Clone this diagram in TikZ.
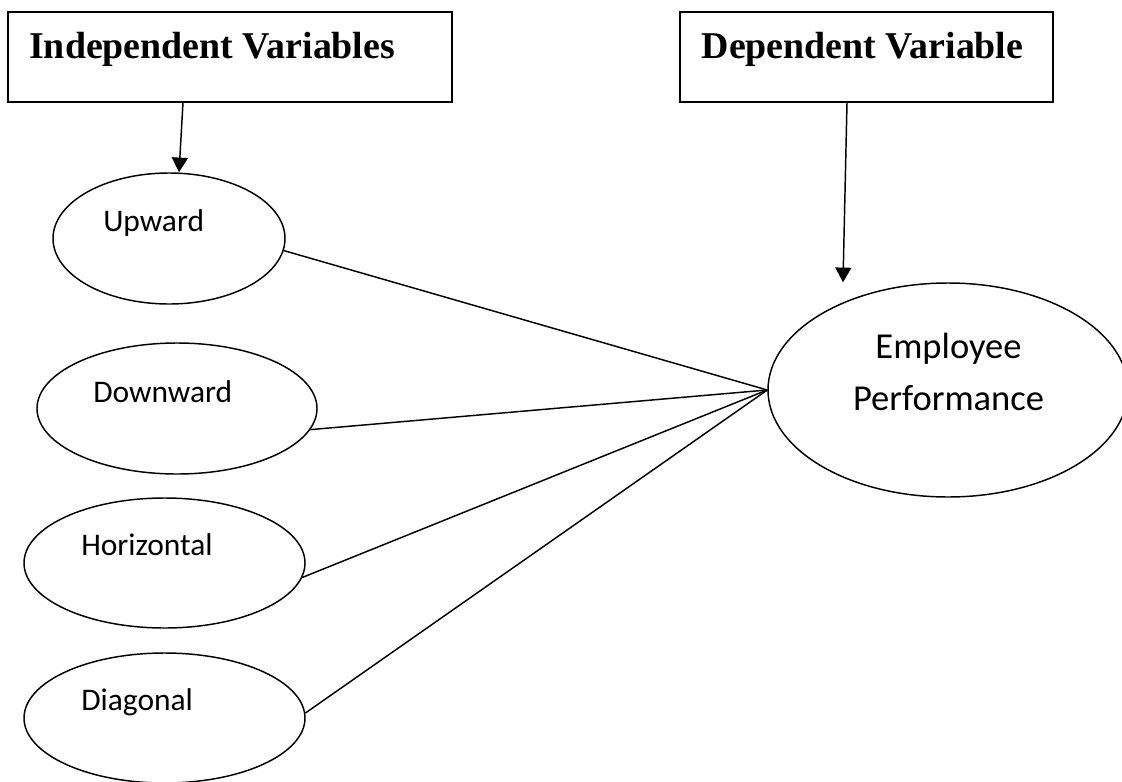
\documentclass[tikz,border=0pt]{standalone}
\usepackage{fontspec}
\setmainfont{Liberation Serif}
\newfontfamily\calfont{Carlito}
\usetikzlibrary{positioning,arrows.meta,shapes.geometric}

\begin{document}
\begin{tikzpicture}[x=0.75pt,y=-0.75pt,
        varbox/.style={draw, line width=1.1pt, inner sep=0pt},
        head/.style={font=\bfseries\fontsize{28.4}{34}\selectfont, inner sep=0pt, anchor=base west},
        commbox/.style={draw, ellipse, line width=1.1pt, inner sep=0pt},
        commtext/.style={font=\calfont\fontsize{23.6}{28}\selectfont, inner sep=0pt, anchor=base west},
        perftext/.style={font=\calfont\fontsize{27.4}{33}\selectfont, inner sep=0pt, anchor=base},
        link/.style={line width=1.1pt},
        pointer/.style={line width=1.1pt, -{Triangle[width=12pt,length=11pt]}}]

        \useasboundingbox (0,0) rectangle (1122,782);

        % headings
        \node[varbox, minimum width=333pt, minimum height=67.5pt] (indep) at (230,57) {};
        \node[head] (indepT) at ([shift={(-201,1)}]indep.center) {Independent Variables};
        \node[varbox, minimum width=279.75pt, minimum height=67.5pt] (dep) at (866.5,57) {};
        \node[head] (depT) at ([shift={(-165,1)}]dep.center) {Dependent Variable};

        % communication directions
        \node[commbox, minimum width=174pt, minimum height=98.25pt] (up) at (169,238.5) {};
        \node[commtext] (upT) at ([shift={(-66,-7.5)}]up.center) {Upward};
        \node[commbox, minimum width=210pt, minimum height=98.25pt] (down) at (177,408.5) {};
        \node[commtext] (downT) at ([shift={(-84,-6.5)}]down.center) {Downward};
        \node[commbox, minimum width=210.75pt, minimum height=97.5pt] (hor) at (164.5,563) {};
        \node[commtext] (horT) at ([shift={(-83.5,-8)}]hor.center) {Horizontal};
        \node[commbox, minimum width=210.75pt, minimum height=97.5pt] (dia) at (164.5,718) {};
        \node[commtext] (diaT) at ([shift={(-83.5,-8)}]dia.center) {Diagonal};

        % outcome
        \node[commbox, minimum width=270pt, minimum height=160.5pt] (perf) at (948,390) {};
        \node[perftext] (perfA) at ([shift={(0.5,-32)}]perf.center) {Employee};
        \node[perftext] (perfB) at ([shift={(0.5,20)}]perf.center) {Performance};

        \draw[pointer] ([shift={(-47,0)}]indep.south) -- ([shift={(10,0)}]up.north);
        \draw[pointer] ([shift={(-19.5,0)}]dep.south) -- ([shift={(-105,0)}]perf.north);

        \draw[link] (up.-6) -- (perf.west);
        \draw[link] (down.-9) -- (perf.west);
        \draw[link] (hor.-6) -- (perf.west);
        \draw[link] (dia.2) -- (perf.west);

\end{tikzpicture}
\end{document}
